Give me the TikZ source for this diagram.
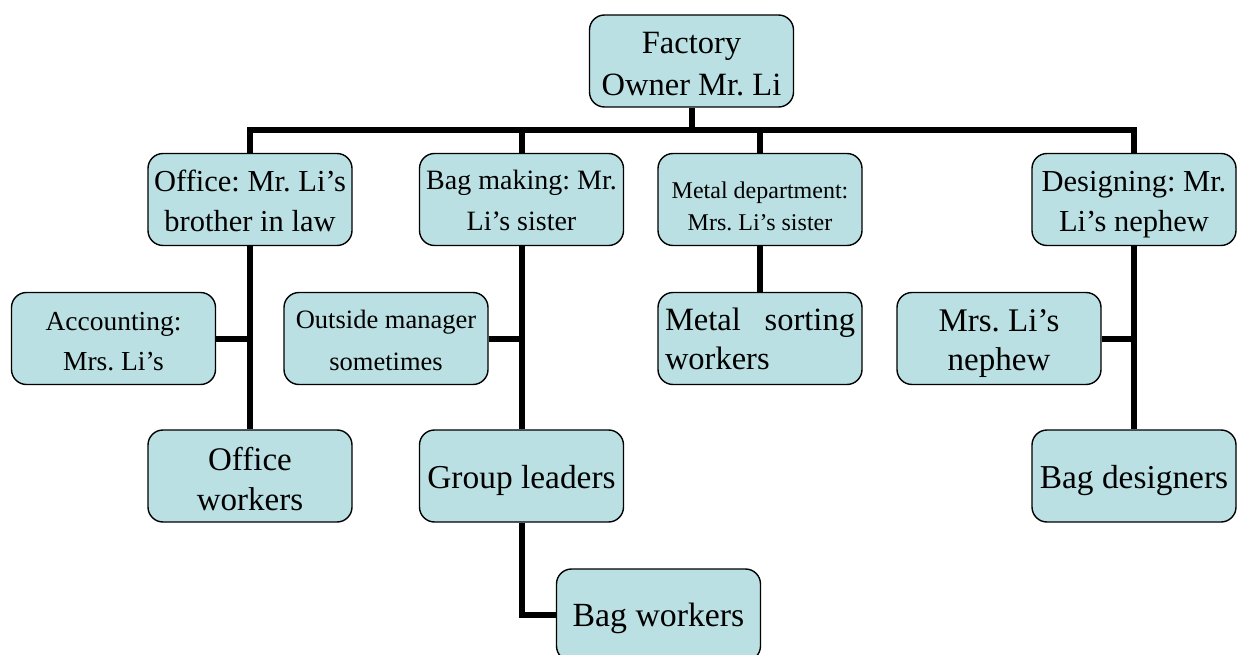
\documentclass[tikz,border=0pt]{standalone}
\usepackage{fontspec}
\setmainfont{Liberation Serif}
\frenchspacing
\definecolor{boxfill}{RGB}{186,224,227}
\newcommand{\fs}[2]{\fontsize{#1}{#2}\selectfont}
% invisible rule that sets the height of a first line
\newcommand{\tallstrut}[1]{\rule{0pt}{#1pt}}
\begin{document}
\begin{tikzpicture}[x=1pt,y=-1pt,
  unit/.style={draw=black, line width=1.4pt, fill=boxfill, rounded corners=15pt,
    minimum width=204pt, minimum height=92pt, inner sep=0pt, align=center,
    text depth=0pt, font=\fs{33}{40}},
  conn/.style={line width=6pt, line join=miter}]
\useasboundingbox (0,0) rectangle (1245,655);

% top level
\node[unit, font=\fs{32.5}{42}] (owner) at (691.5,61) {\tallstrut{27}Factory\\Owner Mr. Li};

% departments
\node[unit, font=\fs{30.5}{40}] (office) at (250,199.5) {\tallstrut{25}Office: Mr. Li’s\\brother in law};
\node[unit, font=\fs{28}{41}] (bag) at (521.5,199.5) {\tallstrut{22}Bag making: Mr.\\Li’s sister};
\node[unit, font=\fs{24}{32}] (metal) at (760,199.5) {\tallstrut{29}Metal department:\\Mrs. Li’s sister};
\node[unit, font=\fs{30.5}{40}] (design) at (1134,199.5) {\tallstrut{25}Designing: Mr.\\Li’s nephew};

% second row
\node[unit, font=\fs{27.5}{40}] (acc) at (113.5,338.5) {\tallstrut{23}Accounting:\\Mrs. Li’s};
\node[unit, font=\fs{26.5}{42}] (outside) at (386,338.5) {\tallstrut{21}Outside manager\\sometimes};
\node[unit, font=\fs{32.5}{39}, text depth={}, text width=190pt, align=left] (sorting) at (760,338.5)
  {\tallstrut{24}Metal\hfill sorting\\workers};
\node[unit, font=\fs{33}{39}] (nephew) at (999,338.5) {\tallstrut{24}Mrs. Li’s\\nephew};

% third row
\node[unit] (offw) at (250,476) {\tallstrut{28}Office\\workers};
\node[unit, font=\fs{33.4}{40}] (group) at (521.5,476) {\tallstrut{25}Group leaders};
\node[unit, font=\fs{33.4}{40}] (bagdes) at (1134,476) {\tallstrut{25}Bag designers};

% fourth row
\node[unit, font=\fs{33.8}{40}] (bagw) at (658.5,615) {Bag workers};

% connectors
\coordinate (bus) at (691.5,130);
\draw[conn] (owner.south) -- (bus);
\draw[conn] (office.north) |- (bus) -| (design.north);
\draw[conn] (bag.north) -- (bag.north |- bus);
\draw[conn] (metal.north) -- (metal.north |- bus);

\draw[conn] (office.south) -- (offw.north);
\draw[conn] (acc.east) -- (acc.east -| office.south);

\draw[conn] (bag.south) -- (group.north);
\draw[conn] (outside.east) -- (outside.east -| bag.south);
\draw[conn] (group.south) |- (bagw.west);

\draw[conn] (metal.south) -- (sorting.north);

\draw[conn] (design.south) -- (bagdes.north);
\draw[conn] (nephew.east) -- (nephew.east -| design.south);
\end{tikzpicture}
\end{document}
